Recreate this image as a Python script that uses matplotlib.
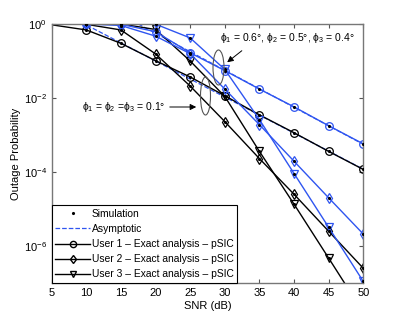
import matplotlib
matplotlib.use('Agg')
import matplotlib.pyplot as plt
from matplotlib.patches import Ellipse
from matplotlib.lines import Line2D

plt.rcParams['font.family'] = ['Liberation Sans', 'DejaVu Sans']
plt.rcParams['mathtext.fontset'] = 'custom'
plt.rcParams['mathtext.rm'] = 'Liberation Sans'
plt.rcParams['mathtext.it'] = 'Liberation Sans:italic'
plt.rcParams['font.size'] = 8

snr = [5, 10, 15, 20, 25, 30, 35, 40, 45, 50]

# phi1 = phi2 = phi3 = 0.1 deg (black)
u1_low = [0.95, 0.69, 0.30, 0.102, 0.037, 0.0115, 3.5e-3, 1.15e-3, 3.6e-4, 1.17e-4]
u2_low = [1.0, 0.98, 0.69, 0.155, 0.021, 2.3e-3, 2.3e-4, 2.5e-5, 2.5e-6, 2.5e-7]
u3_low = [1.0, 1.0, 1.0, 0.71, 0.10, 0.011, 3.6e-4, 1.35e-5, 4.7e-7, 1.6e-8]

# phi1 = 0.6, phi2 = 0.5, phi3 = 0.4 deg (blue)
u1_high = [1.0, 1.0, 0.98, 0.62, 0.166, 0.055, 0.0174, 5.75e-3, 1.78e-3, 5.75e-4]
u2_high = [1.0, 1.0, 0.91, 0.47, 0.158, 0.0174, 1.9e-3, 1.95e-4, 2.0e-5, 2.1e-6]
u3_high = [1.0, 1.0, 1.0, 0.99, 0.42, 0.059, 2.6e-3, 9.1e-5, 3.2e-6, 1.1e-7]

# asymptotic curves (user 1)
asym_snr = [5, 50]
asym_u1_low = [2.9, 1.19e-4]
asym_u1_high = [17.8, 5.6e-4]

blue = '#2f55f0'
ms = 5.5

fig = plt.figure(figsize=(4.02, 3.19), dpi=100)
ax = fig.add_axes([0.1286, 0.1129, 0.7751, 0.8119])

ax.plot(asym_snr, asym_u1_low, '--', color=blue, lw=0.9, zorder=1)
ax.plot(asym_snr, asym_u1_high, '--', color=blue, lw=0.9, zorder=1)

curves = [(u1_low, 'o', 'k'), (u2_low, 'd', 'k'), (u3_low, 'v', 'k'),
          (u1_high, 'o', blue), (u2_high, 'd', blue), (u3_high, 'v', blue)]
for vals, mk, col in curves:
    ax.plot(snr, vals, '-', color=col, lw=1.0, marker=mk, mfc='none', mec=col,
            ms=ms, mew=0.9, markevery=list(range(1, len(snr))), zorder=2)
    ax.plot(snr[1:], vals[1:], '.', color='k', ms=2.5, zorder=3)

ax.set_yscale('log')
ax.set_xlim(5, 50)
ax.set_ylim(1e-7, 1)
ax.set_xticks(range(5, 55, 5))
ax.set_yticks([1e0, 1e-2, 1e-4, 1e-6])
ax.yaxis.set_minor_locator(matplotlib.ticker.NullLocator())
ax.tick_params(direction='in', length=3, top=True, right=True, color='#555555')
for s in ax.spines.values():
    s.set_color('#777777')
    s.set_linewidth(1.0)

ax.set_xlabel('SNR (dB)', labelpad=2)
ax.set_ylabel('Outage Probability', labelpad=2)

# ellipses and labels, placed in figure pixels
ell1 = Ellipse((218.5, 319 - 67.5), 11, 35, transform=None, fill=False, ec='#555555', lw=0.8)
ell2 = Ellipse((205.5, 319 - 96), 10, 38, transform=None, fill=False, ec='#555555', lw=0.8)
fig.patches.extend([ell1, ell2])

fig.text(220 / 402, 1 - 38 / 319, 'ϕ$_1$ = 0.6°, ϕ$_2$ = 0.5°, ϕ$_3$ = 0.4°', va='center',
         ha='left', fontsize=7.5)
fig.text(82 / 402, 1 - 107 / 319, 'ϕ$_1$ = ϕ$_2$ =ϕ$_3$ = 0.1°', va='center', ha='left',
         fontsize=7.5)
ax.annotate('', xy=(225 / 402, 1 - 64 / 319), xycoords='figure fraction',
            xytext=(244 / 402, 1 - 49 / 319), textcoords='figure fraction',
            arrowprops=dict(arrowstyle='-|>', color='k', lw=0.7, mutation_scale=9))
ax.annotate('', xy=(199 / 402, 1 - 107 / 319), xycoords='figure fraction',
            xytext=(167 / 402, 1 - 107 / 319), textcoords='figure fraction',
            arrowprops=dict(arrowstyle='-|>', color='k', lw=0.7, mutation_scale=9))

handles = [
    Line2D([], [], ls='none', marker='.', color='k', ms=2.5),
    Line2D([], [], ls='--', color=blue, lw=0.9),
    Line2D([], [], ls='-', color='k', lw=1.0, marker='o', mfc='none', ms=ms - 1),
    Line2D([], [], ls='-', color='k', lw=1.0, marker='d', mfc='none', ms=ms - 1),
    Line2D([], [], ls='-', color='k', lw=1.0, marker='v', mfc='none', ms=ms - 1),
]
labels = ['Simulation', 'Asymptotic', 'User 1 – Exact analysis – pSIC',
          'User 2 – Exact analysis – pSIC', 'User 3 – Exact analysis – pSIC']
leg = ax.legend(handles, labels, loc='lower left', borderaxespad=0, fancybox=False,
                edgecolor='k', framealpha=1, handlelength=3.4, handletextpad=0.15,
                labelspacing=0.5, borderpad=0.35, fontsize=7.4)
leg.get_frame().set_linewidth(0.8)
leg.set_zorder(5)

fig.savefig('out.png', dpi=100)
